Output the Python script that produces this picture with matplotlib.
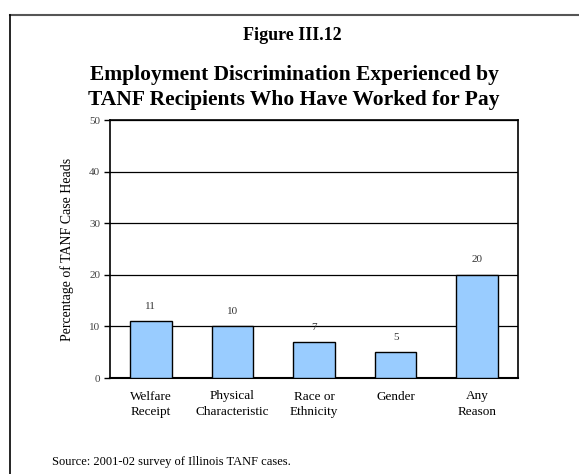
import matplotlib
matplotlib.use("Agg")
import matplotlib.pyplot as plt
from matplotlib.lines import Line2D

categories = ["Welfare\nReceipt", "Physical\nCharacteristic", "Race or\nEthnicity", "Gender", "Any\nReason"]
values = [11, 10, 7, 5, 20]
yticks = [0, 10, 20, 30, 40, 50]

plt.rcParams['font.family'] = ['Liberation Serif', 'DejaVu Serif']

fig = plt.figure(figsize=(5.79, 4.74), dpi=100)

# page frame
fig.add_artist(Line2D([10/579, 1.0], [1-15/474, 1-15/474], transform=fig.transFigure, color='#555555', lw=1.5))
fig.add_artist(Line2D([10/579, 10/579], [1-15/474, 0], transform=fig.transFigure, color='black', lw=1.2))

fig.text(292/579, 1-35/474, "Figure III.12", ha='center', va='center', fontsize=13, fontweight='bold')
fig.text(294/579, 1-75/474, "Employment Discrimination Experienced by", ha='center', va='center', fontsize=15.5, fontweight='bold')
fig.text(294/579, 1-100/474, "TANF Recipients Who Have Worked for Pay", ha='center', va='center', fontsize=15.5, fontweight='bold')
fig.text(52/579, 1-462/474, "Source: 2001-02 survey of Illinois TANF cases.", ha='left', va='center', fontsize=9)

ax = fig.add_axes([110/579, 1-378/474, 408/579, 258/474])
x = list(range(len(categories)))
ax.bar(x, values, width=0.51, color='#99CCFF', edgecolor='black', linewidth=1.0, zorder=3)
for xi, v in zip(x, values):
    ax.text(xi, v + 2.0, str(v), ha='center', va='bottom', fontsize=8, color='#333333')
ax.set_xlim(-0.5, len(categories) - 0.5)
ax.set_ylim(0, 50)
ax.set_yticks(yticks)
ax.yaxis.grid(True, color='black', lw=0.9)
ax.set_axisbelow(True)
ax.set_xticks(x)
ax.set_xticklabels(categories, fontsize=9.5, linespacing=1.35)
ax.tick_params(axis='x', length=0, pad=9)
ax.tick_params(axis='y', length=4, width=1, labelsize=8, labelcolor='#444444', pad=3)
for s in ax.spines.values():
    s.set_linewidth(1.2)
    s.set_color('black')
ax.spines['bottom'].set_linewidth(1.5)
ax.set_ylabel("Percentage of TANF Case Heads", fontsize=10, labelpad=11)

fig.savefig("out.png", dpi=100)
